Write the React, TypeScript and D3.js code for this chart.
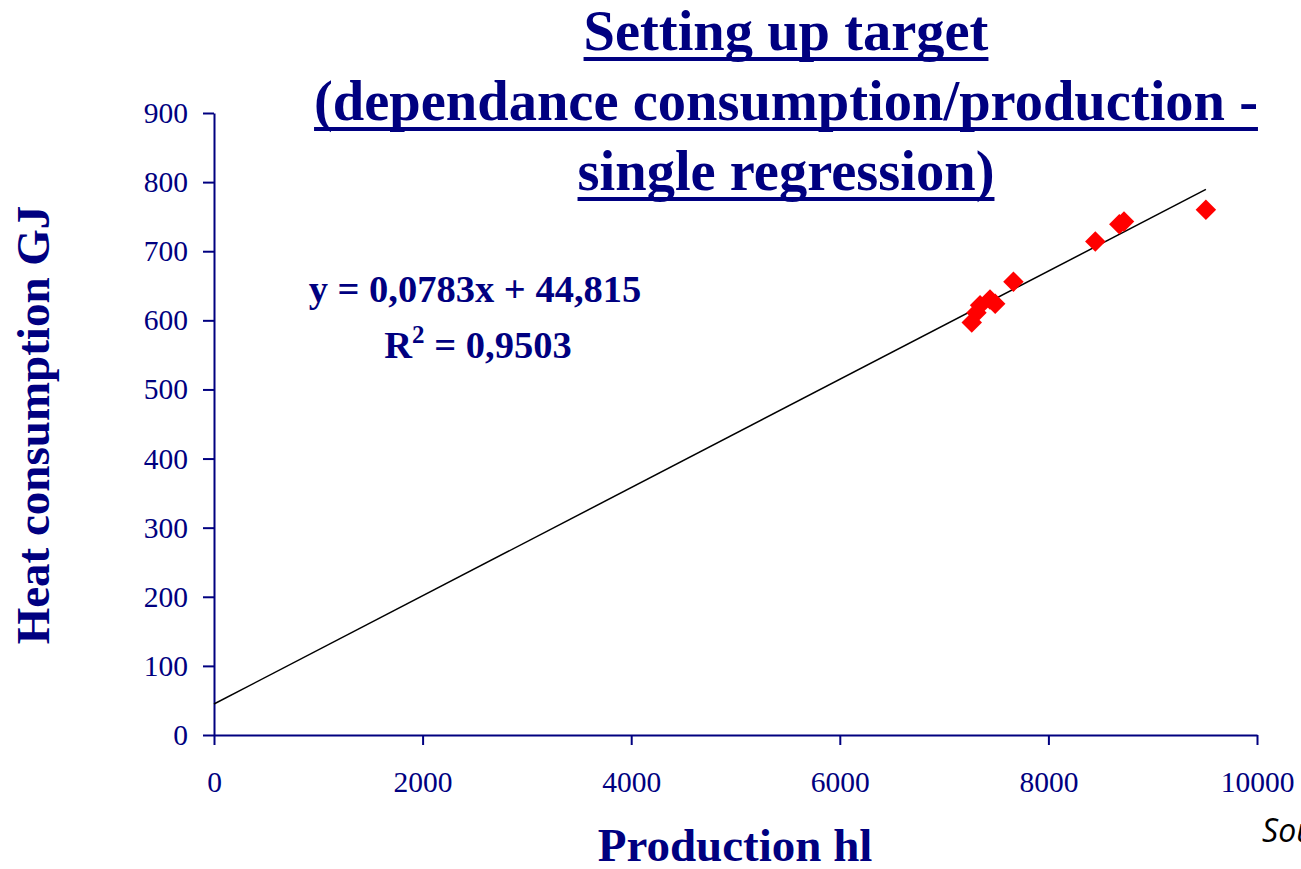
import React, { useEffect, useRef } from 'react';
import * as d3 from 'd3';

// Production (hl) vs heat consumption (GJ)
const production = [7265, 7310, 7345, 7440, 7490, 7665, 8450, 8680, 8725, 9510];
const heat = [597, 611, 622, 630, 624, 656, 714, 739, 743, 760];

const xTicks = [0, 2000, 4000, 6000, 8000, 10000];
const yTicks = [0, 100, 200, 300, 400, 500, 600, 700, 800, 900];

const slope = 0.0783;
const intercept = 44.815;
const eqLabel = 'y = 0,0783x + 44,815';
const r2Value = ' = 0,9503';

const titleLines = [
  'Setting up target',
  '(dependance consumption/production -',
  'single regression)',
];

const NAVY = '#000080';
const SERIF = '"Liberation Serif", "Times New Roman", serif';

const App: React.FC = () => {
  const svgRef = useRef<SVGSVGElement>(null);
  const width = 1301;
  const height = 869;

  useEffect(() => {
    if (!svgRef.current) return;
    const svg = d3.select(svgRef.current);
    svg.selectAll('*').remove();

    const margin = { top: 113, right: 44, bottom: 134, left: 214 };
    const innerWidth = width - margin.left - margin.right;
    const innerHeight = height - margin.top - margin.bottom;

    const g = svg.append('g')
      .attr('transform', `translate(${margin.left},${margin.top})`);

    const xScale = d3.scaleLinear().domain([0, 10000]).range([0, innerWidth]);
    const yScale = d3.scaleLinear().domain([0, 900]).range([innerHeight, 0]);

    // Axes
    const yAxisGroup = g.append('g')
      .call(d3.axisLeft(yScale).tickValues(yTicks).tickSize(11).tickSizeOuter(0).tickPadding(15)
        .tickFormat(d3.format('d')));
    const xAxisGroup = g.append('g')
      .attr('transform', `translate(0,${innerHeight})`)
      .call(d3.axisBottom(xScale).tickValues(xTicks).tickSize(10).tickSizeOuter(0).tickPadding(26)
        .tickFormat(d3.format('d')));

    [xAxisGroup, yAxisGroup].forEach(ax => {
      ax.select('.domain').attr('stroke', NAVY).attr('stroke-width', 2);
      ax.selectAll('.tick line').attr('stroke', NAVY).attr('stroke-width', 2);
      ax.selectAll('text')
        .attr('fill', NAVY)
        .attr('font-family', SERIF)
        .attr('font-size', 29.5);
    });

    // Regression line
    const line = d3.line<number>()
      .x(d => xScale(d))
      .y(d => yScale(slope * d + intercept));
    g.append('path')
      .datum([0, d3.max(production) as number])
      .attr('fill', 'none')
      .attr('stroke', '#000000')
      .attr('stroke-width', 1.5)
      .attr('d', line);

    // Data points (red diamonds)
    const diamond = d3.symbol().type(d3.symbolSquare).size(210);
    g.selectAll('.pt')
      .data(production.map((p, i) => ({ x: p, y: heat[i] })))
      .enter()
      .append('path')
      .attr('d', diamond)
      .attr('transform', d => `translate(${xScale(d.x)},${yScale(d.y)}) rotate(45)`)
      .attr('fill', '#ff0000');

    // Equation
    svg.append('text')
      .attr('x', 475)
      .attr('y', 302)
      .attr('text-anchor', 'middle')
      .attr('fill', NAVY)
      .attr('font-family', SERIF)
      .attr('font-weight', 'bold')
      .attr('font-size', 38.5)
      .text(eqLabel);

    const r2 = svg.append('text')
      .attr('x', 478)
      .attr('y', 358)
      .attr('text-anchor', 'middle')
      .attr('fill', NAVY)
      .attr('font-family', SERIF)
      .attr('font-weight', 'bold')
      .attr('font-size', 38.5);
    r2.append('tspan').text('R');
    r2.append('tspan').attr('dy', -15).attr('font-size', 25).text('2');
    r2.append('tspan').attr('dy', 15).text(r2Value);

    // Title with underlines
    titleLines.forEach((t, i) => {
      const baseline = 50 + i * 70;
      const txt = svg.append('text')
        .attr('x', 786)
        .attr('y', baseline)
        .attr('text-anchor', 'middle')
        .attr('fill', NAVY)
        .attr('font-family', SERIF)
        .attr('font-weight', 'bold')
        .attr('font-size', 56.5)
        .text(t);
      const len = (txt.node() as SVGTextElement).getComputedTextLength();
      svg.append('rect')
        .attr('x', 786 - len / 2)
        .attr('y', baseline + 7)
        .attr('width', len)
        .attr('height', 4)
        .attr('fill', NAVY);
    });

    // Axis titles
    svg.append('text')
      .attr('x', 735)
      .attr('y', 861)
      .attr('text-anchor', 'middle')
      .attr('fill', NAVY)
      .attr('font-family', SERIF)
      .attr('font-weight', 'bold')
      .attr('font-size', 47)
      .text('Production hl');

    svg.append('text')
      .attr('transform', 'translate(49,425) rotate(-90)')
      .attr('text-anchor', 'middle')
      .attr('fill', NAVY)
      .attr('font-family', SERIF)
      .attr('font-weight', 'bold')
      .attr('font-size', 47)
      .text('Heat consumption GJ');

    // Source note, cut off at the right edge as in the slide
    svg.append('text')
      .attr('x', 1262)
      .attr('y', 842)
      .attr('fill', '#000000')
      .attr('font-family', '"Open Sans", "Liberation Sans", sans-serif')
      .attr('font-style', 'italic')
      .attr('font-size', 32)
      .text('Source');
  }, []);

  return (
    <svg
      ref={svgRef}
      width={width}
      height={height}
      style={{ position: 'absolute', left: 0, top: 0, background: '#ffffff' }}
    />
  );
};

export default App;
